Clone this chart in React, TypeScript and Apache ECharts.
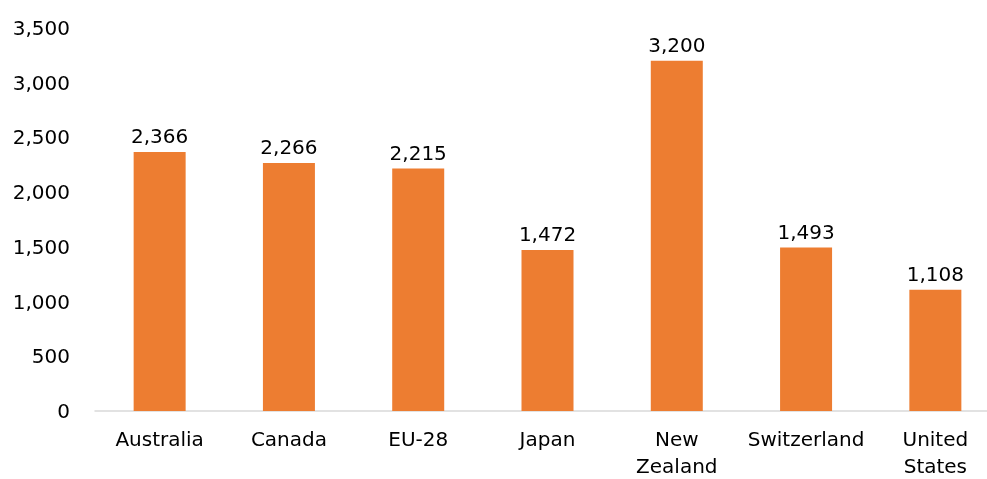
import React, { useEffect, useRef } from "react";
import * as echarts from "echarts";

const categories = ["Australia", "Canada", "EU-28", "Japan", "New\nZealand", "Switzerland", "United\nStates"];
const values = [2366, 2266, 2215, 1472, 3200, 1493, 1108];
const yTicks = { min: 0, max: 3500, interval: 500 };

const fmt = (v: number) => v.toLocaleString("en-US");

export default function App() {
  const ref = useRef<HTMLDivElement>(null);
  useEffect(() => {
    if (!ref.current) return;
    const chart = echarts.init(ref.current, null, { renderer: "svg" });
    const font = "'DejaVu Sans', sans-serif";
    chart.setOption({
      animation: false,
      grid: { left: 95, top: 28, right: 0, bottom: 68, containLabel: false, outerBoundsMode: "none" },
      xAxis: {
        type: "category",
        data: categories,
        axisLine: { lineStyle: { color: "#D9D9D9", width: 1.5 } },
        axisTick: { show: false },
        axisLabel: { color: "#000", fontSize: 20, fontFamily: font, margin: 14, lineHeight: 27, interval: 0 },
      },
      yAxis: {
        type: "value",
        min: yTicks.min,
        max: yTicks.max,
        interval: yTicks.interval,
        splitLine: { show: false },
        axisLine: { show: false },
        axisTick: { show: false },
        axisLabel: { color: "#000", fontSize: 20, fontFamily: font, margin: 25, formatter: (v: number) => fmt(v) },
      },
      series: [
        {
          type: "bar",
          data: values,
          barWidth: 52,
          itemStyle: { color: "#ED7D31" },
          label: {
            show: true,
            position: "top",
            distance: 6,
            color: "#000",
            fontSize: 20,
            fontFamily: font,
            formatter: (p: any) => fmt(p.value),
          },
        },
      ],
    });
    return () => chart.dispose();
  }, []);
  return (
    <div style={{ width: 987, height: 479, position: "fixed", left: 0, top: 0, overflow: "hidden" }}>
      <div ref={ref} style={{ width: 1000, height: 479 }} />
    </div>
  );
}
